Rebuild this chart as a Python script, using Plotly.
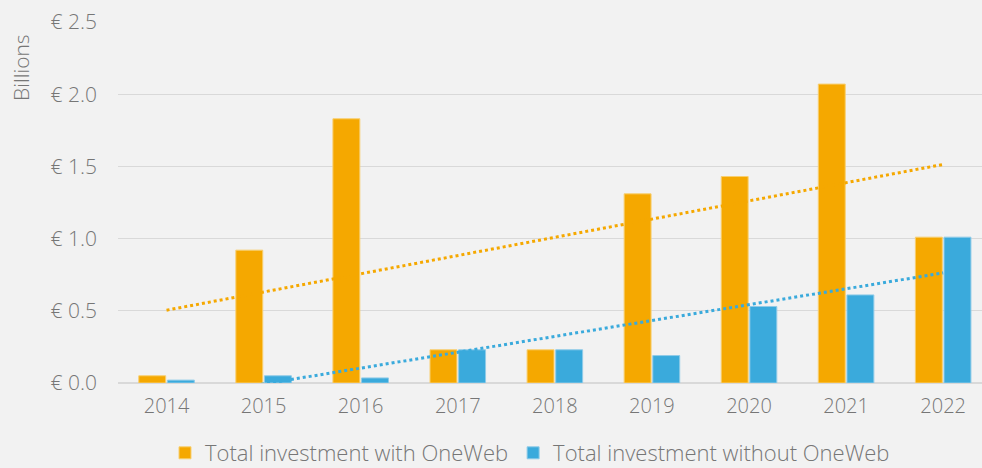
import numpy as np
import plotly.graph_objects as go

years = ['2014', '2015', '2016', '2017', '2018', '2019', '2020', '2021', '2022']
with_oneweb = [0.05, 0.92, 1.83, 0.23, 0.23, 1.31, 1.43, 2.07, 1.01]
without_oneweb = [0.02, 0.05, 0.035, 0.23, 0.23, 0.19, 0.53, 0.61, 1.01]

ORANGE = '#F5A800'
BLUE = '#3AAADC'
GREY = '#767676'
FONT = 'Open Sans'

# plot area in pixels (for placing the little extra labels)
L, T, W, H = 118, 22, 864, 361

x = np.arange(len(years))

fig = go.Figure()
fig.add_trace(go.Bar(
    x=x, y=with_oneweb, name='Total investment with OneWeb',
    marker=dict(color=ORANGE, line=dict(color='#f8cf70', width=1)),
))
fig.add_trace(go.Bar(
    x=x, y=without_oneweb, name='Total investment without OneWeb',
    marker=dict(color=BLUE, line=dict(color='#8fcbe8', width=1)),
))

# linear trendlines (least squares, like the spreadsheet ones)
for vals, col in [(with_oneweb, ORANGE), (without_oneweb, BLUE)]:
    k, b = np.polyfit(x, vals, 1)
    fig.add_trace(go.Scatter(
        x=[x[0], x[-1]], y=[b, k * x[-1] + b], mode='lines',
        line=dict(color=col, width=3, dash='dot'),
        showlegend=False, hoverinfo='skip',
    ))

fig.add_annotation(
    text='Billions', xref='paper', yref='paper',
    x=(21 - L) / W, y=(T + H - 68) / H, xanchor='center', yanchor='middle',
    showarrow=False, textangle=-90,
    font=dict(family=FONT, size=21, color=GREY, weight=300),
)

fig.update_layout(
    width=982, height=468,
    margin=dict(l=L, r=982 - L - W, t=T, b=468 - T - H, autoexpand=False),
    paper_bgcolor='#f2f2f2', plot_bgcolor='#f2f2f2',
    barmode='group', bargap=0.41, bargroupgap=0.06,
    font=dict(family=FONT, color=GREY, weight=300),
    legend=dict(orientation='h', x=(530 - L) / W, xanchor='center',
                y=(T + H - 453) / H, yanchor='middle',
                font=dict(size=22, color=GREY, weight=300),
                itemwidth=30, traceorder='normal'),
    xaxis=dict(tickmode='array', tickvals=list(x), ticktext=years, range=[-0.5, 8.4],
               showgrid=False, zeroline=False, showline=False,
               tickfont=dict(size=20, color=GREY, weight=300), ticks='', ticklabelstandoff=9),
    yaxis=dict(range=[0, 2.5], dtick=0.5, tickprefix='€ ', tickformat='.1f',
               showgrid=True, gridcolor='#d9d9d9', gridwidth=1,
               zeroline=True, zerolinecolor='#d9d9d9', zerolinewidth=2,
               tickfont=dict(size=21, color=GREY, weight=300), ticks='', ticklabelstandoff=20),
)

fig.write_html('out.html', config={'displayModeBar': False},
               post_script="document.body.style.margin='0';")
